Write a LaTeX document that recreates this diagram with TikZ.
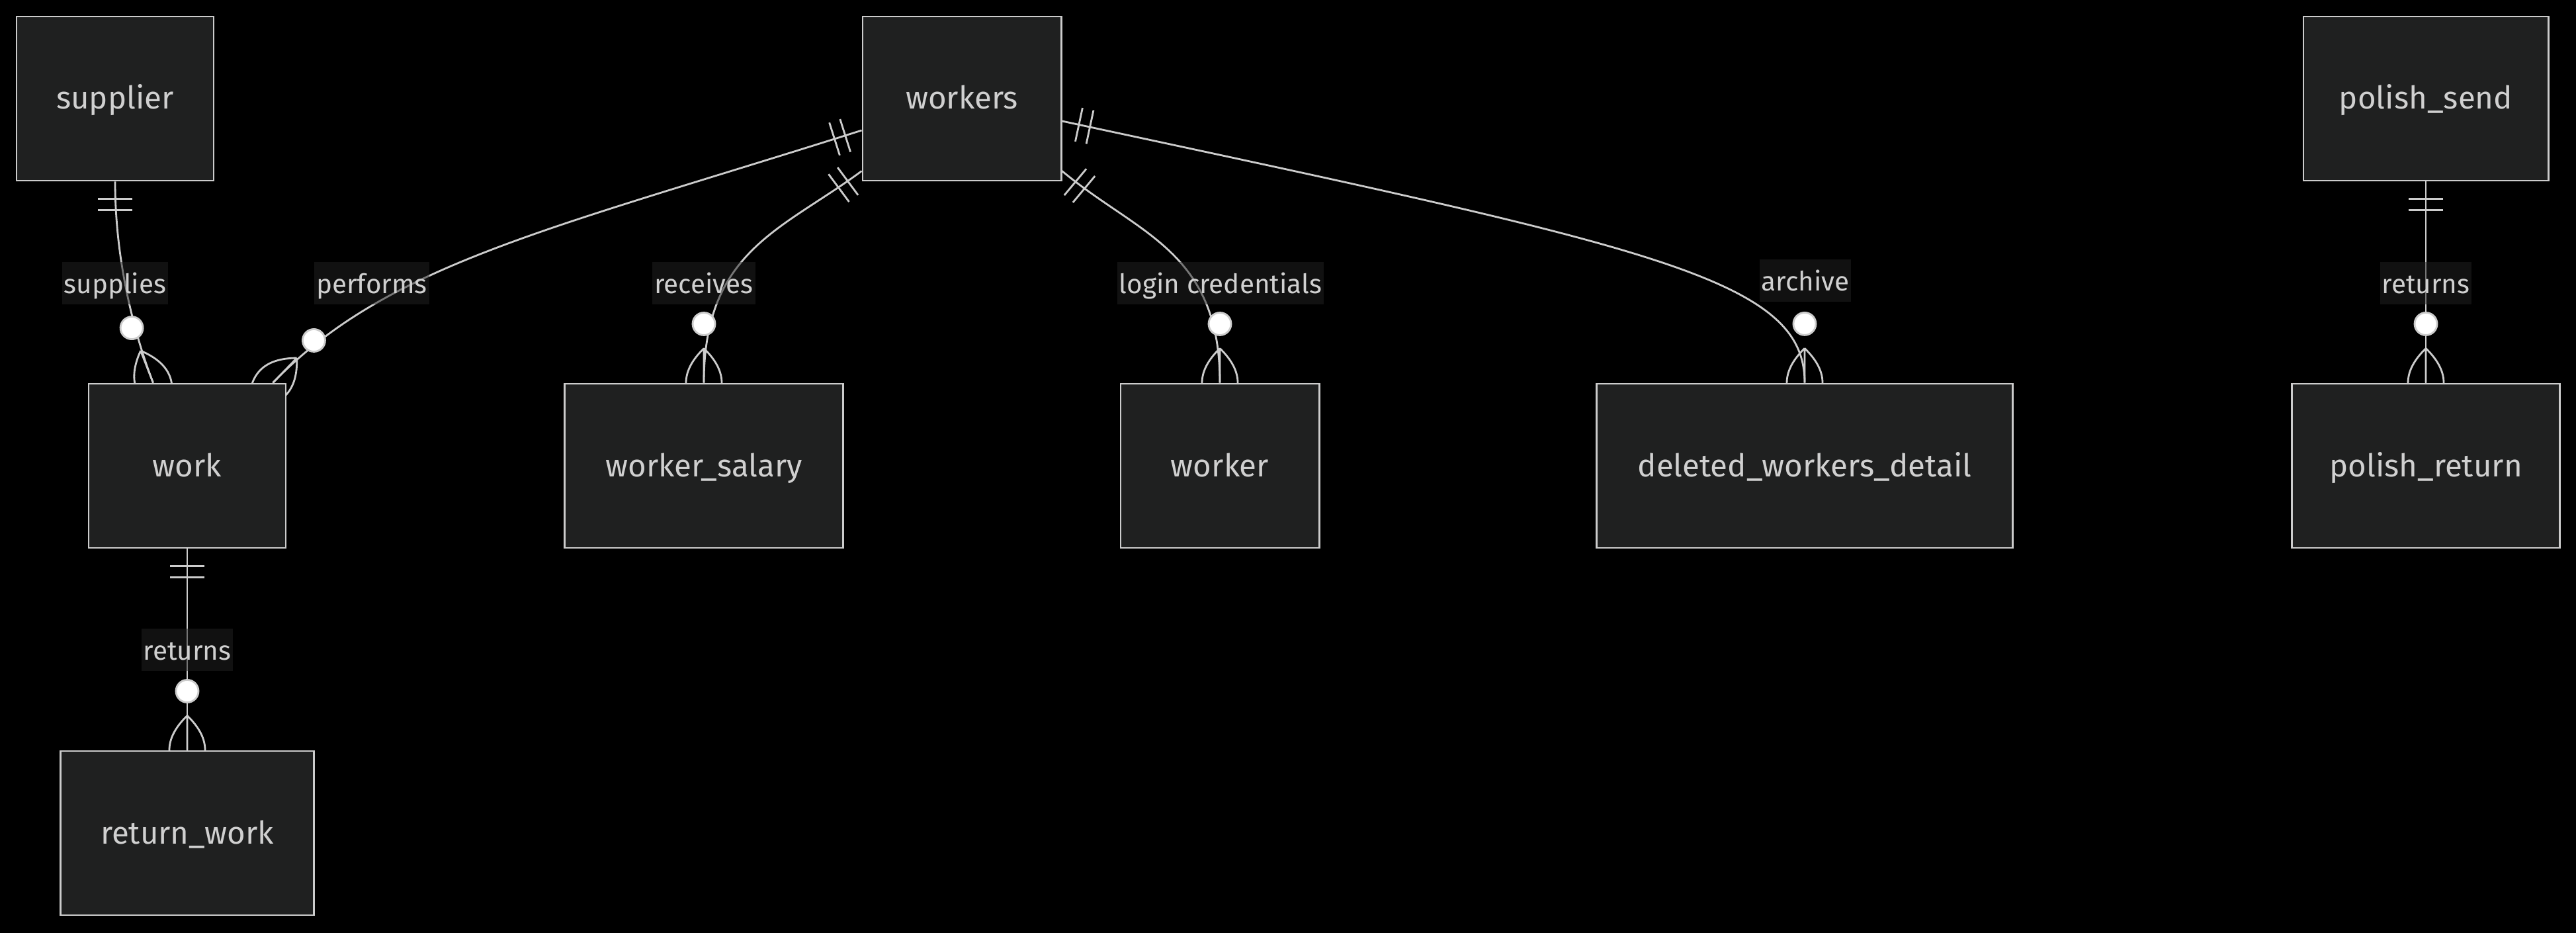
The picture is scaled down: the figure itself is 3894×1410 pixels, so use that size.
\documentclass[tikz,border=0pt]{standalone}
\usepackage{fontspec}
\setmainfont{Fira Sans}
\usetikzlibrary{calc, decorations.markings}
\definecolor{erbg}{RGB}{0,0,0}
\definecolor{erbox}{RGB}{31,32,32}
\definecolor{erline}{RGB}{204,204,204}
\definecolor{ertext}{RGB}{208,208,208}
\definecolor{erlabel}{RGB}{34,34,34}
\pgfdeclarelayer{canvas}
\pgfdeclarelayer{edges}
\pgfsetlayers{canvas,edges,main}
\tikzset{
  entity/.style={rectangle, draw=erline, fill=erbox, text=ertext,
    minimum height=2.48cm, inner sep=0pt, line width=0.8pt,
    text height=0.40cm, text depth=0.08cm,
    font=\fontsize{13.5}{15}\selectfont},
  rellabel/.style={rectangle, fill=erlabel, fill opacity=0.5, text opacity=1,
    text=ertext, inner xsep=0.03cm, inner ysep=0pt, minimum height=0.63cm,
    text height=0.38cm, text depth=0.08cm,
    font=\fontsize{11.5}{13}\selectfont},
  rel/.style={draw=erline, line width=0.8pt},
  crowline/.style={draw=erline, line width=0.8pt},
  onlyone/.style={postaction={decorate, decoration={markings,
    mark=at position 0 with {\draw[crowline] (26,-26) -- (26,26) (43,-26) -- (43,26);}}}},
  zeromany/.style={postaction={decorate, decoration={markings,
    mark=at position 0.9999 with {
      \draw[crowline] (-52,0) -- (0,0)
        (-52,0) .. controls (-17,36) and (17,36) .. (52,0)
        (-52,0) .. controls (-17,-36) and (17,-36) .. (52,0);
      \filldraw[crowline, fill=white] (-89,0) circle (0.17cm);}}}}
}

\begin{document}
\begin{tikzpicture}[x=0.01cm, y=-0.01cm]
  \useasboundingbox (0,0) rectangle (3894,1410);
  \begin{pgfonlayer}{canvas}
    \fill[erbg] (0,0) rectangle (3894,1410);
  \end{pgfonlayer}

  % Entities, top row
  \node[entity, minimum width=2.98cm] (supplier) at (174,149) {supplier};
  \node[entity, minimum width=3.00cm] (workers) at (1454,149) {workers};
  \node[entity, minimum width=3.70cm] (polishsend) at (3667,149) {polish\_send};
  % Entities, middle row
  \node[entity, minimum width=2.98cm] (work) at (283,704) {work};
  \node[entity, minimum width=4.20cm] (salary) at (1064,704) {worker\_salary};
  \node[entity, minimum width=3.00cm] (worker) at (1844,704) {worker};
  \node[entity, minimum width=6.28cm] (deleted) at (2728,704) {deleted\_workers\_detail};
  \node[entity, minimum width=4.05cm] (polishreturn) at (3667,704) {polish\_return};
  % Entities, bottom row
  \node[entity, minimum width=3.82cm] (returnwork) at (283,1259) {return\_work};

  % Relationships (drawn under the boxes)
  \begin{pgfonlayer}{edges}
    \draw[rel, onlyone, zeromany] (supplier.south)
      .. controls +(0,127) and +(-25,-64) .. ($(work.north west)+(99,0)$);
    \draw[rel, onlyone, zeromany] ($(workers.west)+(0,48)$)
      .. controls +(-476,151) and +(174,-180) .. ($(work.north east)+(-21,0)$);
    \draw[rel, onlyone, zeromany] ($(workers.south west)+(0,-16)$)
      .. controls +(-120,89) and +(0,-200) .. (salary.north);
    \draw[rel, onlyone, zeromany] ($(workers.south east)+(0,-16)$)
      .. controls +(115,96) and +(0,-200) .. (worker.north);
    \draw[rel, onlyone, zeromany] ($(workers.east)+(0,34)$)
      .. controls +(896,192) and +(0,-158) .. (deleted.north);
    \draw[rel, onlyone, zeromany] (work.south) -- (returnwork.north);
    \draw[rel, onlyone, zeromany] (polishsend.south) -- (polishreturn.north);
  \end{pgfonlayer}

  % Relationship labels
  \node[rellabel] (lsupplies) at (174,428) {supplies};
  \node[rellabel] (lperforms) at (562,428) {performs};
  \node[rellabel] (lreceives) at (1064,428) {receives};
  \node[rellabel] (llogin) at (1845,428) {login credentials};
  \node[rellabel] (larchive) at (2729,424) {archive};
  \node[rellabel] (lreturns) at (283,982) {returns};
  \node[rellabel] (lpolish) at (3667,428) {returns};
\end{tikzpicture}
\end{document}
